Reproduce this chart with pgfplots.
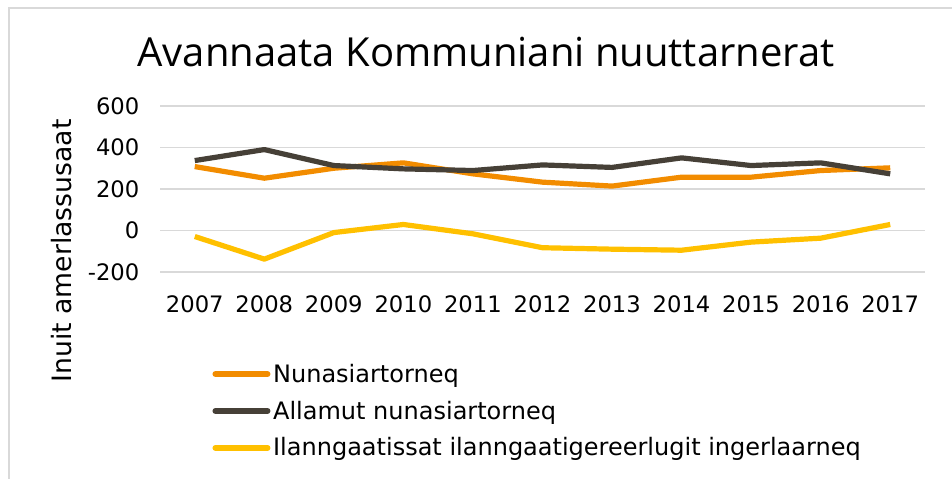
\documentclass[border=0pt]{standalone}
\usepackage{fontspec}
\setmainfont{DejaVu Sans}
\newfontfamily\titlefont{Open Sans}
\usepackage{pgfplots}
\pgfplotsset{compat=1.18}
\definecolor{cOrange}{HTML}{F28C00}
\definecolor{cDark}{HTML}{464037}
\definecolor{cYellow}{HTML}{FFC000}
\definecolor{cGrid}{HTML}{D9D9D9}
\begin{document}
\begin{tikzpicture}[x=0.75pt,y=0.75pt]
\useasboundingbox (0,0) rectangle (952,478);
\draw[cGrid,line width=1pt] (9,-10) -- (9,470) -- (970,470);
\node[font=\titlefont\fontsize{30}{34}\selectfont] at (486,426) {Avannaata Kommuniani nuuttarnerat};
\node[rotate=90,font=\fontsize{20}{24}\selectfont] at (62,227) {Inuit amerlassusaat};
\begin{axis}[
  at={(120pt,154.5pt)}, anchor=south west,
  scale only axis, width=573.75pt, height=124.5pt,
  xmin=2006.5, xmax=2017.5, ymin=-200, ymax=600,
  ytick={-200,0,200,400,600},
  xtick={2007,...,2017},
  xticklabel style={/pgf/number format/1000 sep={}},
  /pgf/number format/assume math mode=true,
  ticklabel style={font=\fontsize{17}{20}\selectfont},
  yticklabel style={xshift=-12pt},
  xticklabel style={yshift=-14.5pt},
  axis line style={draw=none},
  major tick length=0pt,
  ymajorgrids, grid style={cGrid,line width=1.1pt},
  legend style={at={(0.063,-0.52)},anchor=north west,draw=none,fill=none,
    font=\fontsize{18}{22}\selectfont,row sep=8.5pt,
    /tikz/every even column/.append style={column sep=0pt}},
  legend cell align=left,
  legend image code/.code={\draw[#1,line width=4.5pt,line cap=round] (0pt,0pt) -- (39pt,0pt);},
  every axis plot/.append style={line width=3.9pt,line join=round},
]
\addplot[cOrange] coordinates {(2007,308)(2008,252)(2009,300)(2010,326)(2011,273)(2012,233)(2013,214)(2014,257)(2015,257)(2016,289)(2017,302)};
\addlegendentry{Nunasiartorneq}
\addplot[cDark] coordinates {(2007,337)(2008,390)(2009,313)(2010,297)(2011,289)(2012,316)(2013,304)(2014,350)(2015,313)(2016,326)(2017,273)};
\addlegendentry{Allamut nunasiartorneq}
\addplot[cYellow] coordinates {(2007,-29)(2008,-138)(2009,-10)(2010,29)(2011,-16)(2012,-83)(2013,-90)(2014,-95)(2015,-56)(2016,-37)(2017,29)};
\addlegendentry{Ilanngaatissat ilanngaatigereerlugit ingerlaarneq}
\end{axis}
\end{tikzpicture}
\end{document}
